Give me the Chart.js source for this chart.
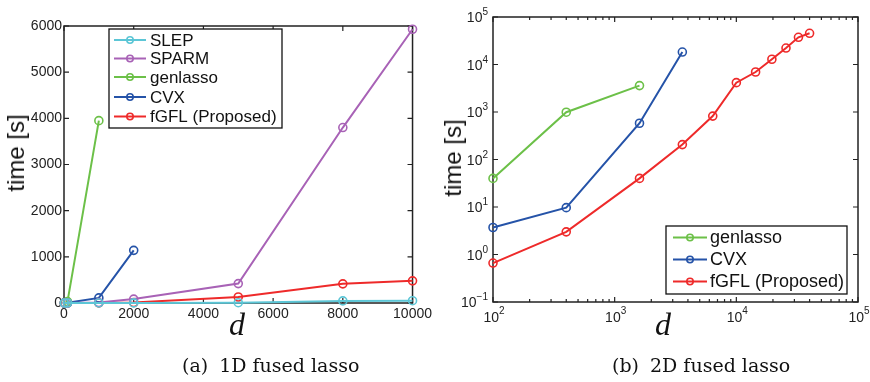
<!DOCTYPE html>
<html>
<head>
<meta charset="utf-8">
<script src="https://cdn.jsdelivr.net/npm/chart.js@4.4.1/dist/chart.umd.min.js"></script>
<style>
  html, body { margin: 0; padding: 0; background: #fff; }
  body { width: 870px; height: 382px; position: relative; overflow: hidden; }
  canvas { position: absolute; top: 0; }
  .t { position: absolute; white-space: nowrap; color: #111; }
  .ylab { font-family: "Liberation Sans", Arial, sans-serif; font-size: 24px; line-height: 1;
          transform: translate(-50%, -50%) rotate(-90deg); }
  .dlab { font-family: "Liberation Serif", serif; font-style: italic; font-size: 32px; line-height: 32px; }
  .cap { font-family: "DejaVu Serif", serif; font-size: 19px; line-height: 19px; }
</style>
</head>
<body>
<canvas id="c1" width="435" height="330" style="left:0px"></canvas>
<canvas id="c2" width="435" height="330" style="left:435px"></canvas>

<div class="t ylab" style="left:16px; top:153px;">time [s]</div>
<div class="t ylab" style="left:453px; top:158px;">time [s]</div>
<div class="t dlab" style="left:229px; top:308px;">d</div>
<div class="t dlab" style="left:655px; top:308px;">d</div>
<div class="t cap" style="left:182px; top:356px;">(a)<span style="display:inline-block;width:11px"></span>1D fused lasso</div>
<div class="t cap" style="left:612px; top:356px;">(b)<span style="display:inline-block;width:11px"></span>2D fused lasso</div>

<script>
// ---------- Data: (a) 1D fused lasso ----------
const d1D = [10, 100, 1000, 2000, 5000, 8000, 10000];
const slep1D = [0.01, 0.1, 1, 2, 6, 45, 50];
const sparm1D = [0.1, 1, 10, 85, 420, 3800, 5930];
const genlasso1D = [1, 30, 3950];
const cvx1D = [2, 5, 110, 1140];
const fgfl1D = [0.01, 0.1, 1, 10, 130, 415, 480];
const xTicks1D = [0, 2000, 4000, 6000, 8000, 10000];
const yTicks1D = [0, 1000, 2000, 3000, 4000, 5000, 6000];

// ---------- Data: (b) 2D fused lasso ----------
const d2D = [100, 400, 1600, 3600, 6400, 10000, 14400, 19600, 25600, 32400, 40000];
const genlasso2D = [40, 990, 3600];
const cvx2D = [3.7, 9.7, 580, 18300];
const fgfl2D = [0.66, 3.0, 40, 206, 820, 4150, 6950, 12900, 22200, 37400, 45400];
const xMajor2D = [100, 1000, 10000, 100000];
const yMajor2D = [0.1, 1, 10, 100, 1000, 10000, 100000];

const labels1D = ['SLEP', 'SPARM', 'genlasso', 'CVX', 'fGFL (Proposed)'];
const labels2D = ['genlasso', 'CVX', 'fGFL (Proposed)'];

const COL = {
  SLEP: '#5cc6d6',
  SPARM: '#a862b6',
  genlasso: '#6cc048',
  CVX: '#2553a8',
  fGFL: '#ee2a2a'
};

const FONT = '"Liberation Sans", Arial, sans-serif';
Chart.defaults.font.family = FONT;
Chart.defaults.color = '#222';

function pts(xs, ys) { return ys.map((y, i) => ({ x: xs[i], y: y })); }

function ds(label, color, data) {
  return {
    label: label, data: data,
    borderColor: color, backgroundColor: color,
    borderWidth: 2, tension: 0,
    pointRadius: 4, pointHoverRadius: 4,
    pointBorderWidth: 1.6, pointBorderColor: color,
    pointBackgroundColor: 'rgba(0,0,0,0)',
    clip: false
  };
}

function expOf(v) { return Math.round(Math.log10(v)); }
function isPow10(v) { const l = Math.log10(v); return Math.abs(l - Math.round(l)) < 1e-9; }
function expText(v) { return String(expOf(v)).replace('-', '\u2212'); }

// Box + inward ticks (MATLAB style)
const boxTicks = {
  id: 'boxTicks',
  beforeDatasetsDraw(chart, args, opts) {
    const ctx = chart.ctx, a = chart.chartArea;
    ctx.save();
    ctx.strokeStyle = '#222';
    ctx.lineWidth = 1.2;
    const xs = chart.scales.x, ys = chart.scales.y;
    xs.ticks.forEach(t => {
      const p = xs.getPixelForValue(t.value);
      const len = (opts.logX && !isPow10(t.value)) ? 3 : 5;
      ctx.beginPath();
      ctx.moveTo(p, a.bottom); ctx.lineTo(p, a.bottom - len);
      ctx.moveTo(p, a.top); ctx.lineTo(p, a.top + len);
      ctx.stroke();
    });
    ys.ticks.forEach(t => {
      const p = ys.getPixelForValue(t.value);
      const len = (opts.logY && !isPow10(t.value)) ? 3 : 5;
      ctx.beginPath();
      ctx.moveTo(a.left, p); ctx.lineTo(a.left + len, p);
      ctx.moveTo(a.right, p); ctx.lineTo(a.right - len, p);
      ctx.stroke();
    });
    ctx.lineWidth = 1.5;
    ctx.strokeRect(a.left, a.top, a.right - a.left, a.bottom - a.top);
    ctx.restore();
  }
};

// Power-of-ten tick labels with a proper superscript
const powLabels = {
  id: 'powLabels',
  afterDraw(chart, args, opts) {
    if (!opts.on) return;
    const ctx = chart.ctx, a = chart.chartArea;
    const xs = chart.scales.x, ys = chart.scales.y;
    ctx.save();
    ctx.fillStyle = '#222';
    ctx.textBaseline = 'alphabetic';
    ctx.textAlign = 'left';
    const base = '10';
    xs.ticks.filter(t => isPow10(t.value)).forEach(t => {
      const p = xs.getPixelForValue(t.value);
      const e = expText(t.value);
      ctx.font = '14px ' + FONT; const wb = ctx.measureText(base).width;
      ctx.font = '10px ' + FONT; const we = ctx.measureText(e).width;
      const x0 = p - (wb + we) / 2 + 1;
      ctx.font = '14px ' + FONT; ctx.fillText(base, x0, a.bottom + 20);
      ctx.font = '10px ' + FONT; ctx.fillText(e, x0 + wb, a.bottom + 12);
    });
    ys.ticks.filter(t => isPow10(t.value)).forEach(t => {
      const p = ys.getPixelForValue(t.value);
      const e = expText(t.value);
      ctx.font = '14px ' + FONT; const wb = ctx.measureText(base).width;
      ctx.font = '10px ' + FONT; const we = ctx.measureText(e).width;
      const right = a.left - 5;
      ctx.font = '10px ' + FONT; ctx.fillText(e, right - we, p - 2);
      ctx.font = '14px ' + FONT; ctx.fillText(base, right - we - wb, p + 5);
    });
    ctx.restore();
  }
};

// Legend drawn inside the plot
const boxLegend = {
  id: 'boxLegend',
  afterDraw(chart, args, o) {
    const ctx = chart.ctx;
    ctx.save();
    ctx.fillStyle = '#fff';
    ctx.fillRect(o.x, o.y, o.w, o.h);
    ctx.strokeStyle = '#111';
    ctx.lineWidth = 1.3;
    ctx.strokeRect(o.x, o.y, o.w, o.h);
    chart.data.datasets.forEach((d, i) => {
      const yy = o.rows[i];
      ctx.strokeStyle = d.borderColor;
      ctx.lineWidth = 2;
      ctx.beginPath();
      ctx.moveTo(o.lx0, yy); ctx.lineTo(o.lx1, yy);
      ctx.stroke();
      ctx.lineWidth = 1.6;
      ctx.beginPath();
      ctx.arc((o.lx0 + o.lx1) / 2, yy, 3.2, 0, Math.PI * 2);
      ctx.stroke();
      ctx.fillStyle = '#111';
      ctx.font = o.size + 'px ' + FONT;
      ctx.textBaseline = 'middle';
      ctx.textAlign = 'left';
      ctx.fillText(d.label, o.tx, yy + 1);
    });
    ctx.restore();
  }
};

// ---------- Chart (a) ----------
new Chart(document.getElementById('c1'), {
  type: 'line',
  data: {
    datasets: [
      ds(labels1D[0], COL.SLEP, pts(d1D, slep1D)),
      ds(labels1D[1], COL.SPARM, pts(d1D, sparm1D)),
      ds(labels1D[2], COL.genlasso, pts(d1D, genlasso1D)),
      ds(labels1D[3], COL.CVX, pts(d1D, cvx1D)),
      ds(labels1D[4], COL.fGFL, pts(d1D, fgfl1D))
    ]
  },
  options: {
    responsive: false, animation: false, events: [],
    layout: { padding: { top: 26, right: 20, left: 0, bottom: 0 } },
    plugins: {
      legend: { display: false }, tooltip: { enabled: false },
      boxTicks: {},
      powLabels: { on: false },
      boxLegend: { x: 109, y: 29, w: 173, h: 99, lx0: 114, lx1: 146, tx: 150, size: 17,
                   rows: [40, 58.5, 77, 97, 116.5] }
    },
    scales: {
      x: {
        type: 'linear', min: 0, max: 10000,
        afterBuildTicks: s => { s.ticks = xTicks1D.map(v => ({ value: v })); },
        afterFit: s => { s.height = 27; },
        grid: { display: false, drawTicks: false },
        border: { display: false },
        ticks: { padding: 3, font: { size: 14 }, color: '#222', maxRotation: 0, autoSkip: false,
                 callback: v => String(v) }
      },
      y: {
        type: 'linear', min: 0, max: 6000,
        afterBuildTicks: s => { s.ticks = yTicks1D.map(v => ({ value: v })); },
        afterFit: s => { s.width = 64; },
        grid: { display: false, drawTicks: false },
        border: { display: false },
        ticks: { padding: 2, font: { size: 14 }, color: '#222', autoSkip: false,
                 callback: v => String(v) }
      }
    }
  },
  plugins: [boxTicks, powLabels, boxLegend]
});

// ---------- Chart (b) ----------
function logTicks(lo, hi) {
  const out = [];
  for (let e = expOf(lo); e <= expOf(hi); e++) {
    const b = Math.pow(10, e);
    for (let k = 1; k <= 9; k++) { const v = k * b; if (v >= lo * 0.999 && v <= hi * 1.001) out.push(v); }
  }
  return out;
}

new Chart(document.getElementById('c2'), {
  type: 'line',
  data: {
    datasets: [
      ds(labels2D[0], COL.genlasso, pts(d2D, genlasso2D)),
      ds(labels2D[1], COL.CVX, pts(d2D, cvx2D)),
      ds(labels2D[2], COL.fGFL, pts(d2D, fgfl2D))
    ]
  },
  options: {
    responsive: false, animation: false, events: [],
    layout: { padding: { top: 17, right: 12, left: 0, bottom: 0 } },
    plugins: {
      legend: { display: false }, tooltip: { enabled: false },
      boxTicks: { logX: true, logY: true },
      powLabels: { on: true },
      boxLegend: { x: 231, y: 226, w: 181, h: 68, lx0: 238, lx1: 272, tx: 275, size: 18,
                   rows: [237.5, 259.5, 281.5] }
    },
    scales: {
      x: {
        type: 'logarithmic', min: xMajor2D[0], max: xMajor2D[xMajor2D.length - 1],
        afterBuildTicks: s => { s.ticks = logTicks(xMajor2D[0], xMajor2D[xMajor2D.length - 1]).map(v => ({ value: v })); },
        afterFit: s => { s.height = 28; },
        grid: { display: false, drawTicks: false },
        border: { display: false },
        ticks: { display: false, autoSkip: false }
      },
      y: {
        type: 'logarithmic', min: yMajor2D[0], max: yMajor2D[yMajor2D.length - 1],
        afterBuildTicks: s => { s.ticks = yMajor2D.map(v => ({ value: v })); },
        afterFit: s => { s.width = 58; },
        grid: { display: false, drawTicks: false },
        border: { display: false },
        ticks: { display: false, autoSkip: false }
      }
    }
  },
  plugins: [boxTicks, powLabels, boxLegend]
});
</script>
</body>
</html>
